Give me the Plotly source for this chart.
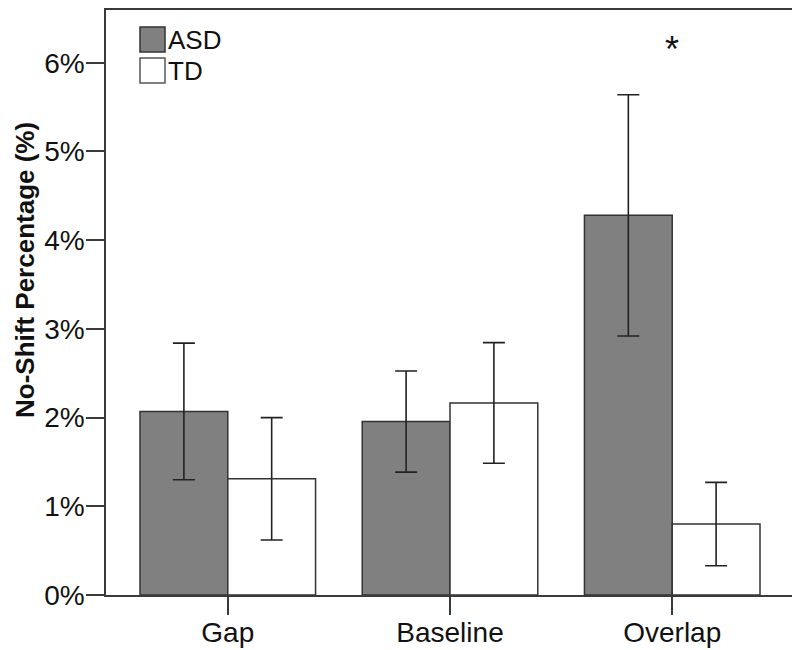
import plotly.graph_objects as go

categories = ["Gap", "Baseline", "Overlap"]
asd_values = [2.07, 1.955, 4.28]
asd_err = [0.77, 0.57, 1.36]
td_values = [1.31, 2.165, 0.80]
td_err = [0.69, 0.68, 0.47]
y_tickvals = [0, 1, 2, 3, 4, 5, 6]
y_ticktext = ["0%", "1%", "2%", "3%", "4%", "5%", "6%"]

FONT = "Liberation Sans, Arial, Helvetica, sans-serif"
LINE = "#3a3a3a"

fig = go.Figure()
fig.add_trace(go.Bar(
    name="ASD", x=categories, y=asd_values,
    marker=dict(color="#808080", line=dict(color="#333333", width=1.5)),
    error_y=dict(type="data", array=asd_err, visible=True, color="#222222", thickness=1.6, width=11),
    showlegend=False,
))
fig.add_trace(go.Bar(
    name="TD", x=categories, y=td_values,
    marker=dict(color="#ffffff", line=dict(color="#333333", width=1.5)),
    error_y=dict(type="data", array=td_err, visible=True, color="#222222", thickness=1.6, width=11),
    showlegend=False,
))

OFF = 8  # page body margin offset
W, H = 792, 642
L, R, T, B = 98, 6, 2, 55
pw, ph = W - L - R, H - T - B

def px(x):
    return (x - OFF - L) / pw

def py(y):
    return (H - B - (y - OFF)) / ph

shapes = [
    dict(type="rect", xref="paper", yref="paper", x0=px(140), x1=px(165), y0=py(52), y1=py(27),
         fillcolor="#808080", line=dict(color="#333333", width=1.5)),
    dict(type="rect", xref="paper", yref="paper", x0=px(140), x1=px(165), y0=py(83), y1=py(58),
         fillcolor="#ffffff", line=dict(color="#555555", width=1.5)),
]
annotations = [
    dict(text="ASD", xref="paper", yref="paper", x=px(166), y=py(40), xanchor="left", yanchor="middle",
         showarrow=False, font=dict(family=FONT, size=26, color="#111111")),
    dict(text="TD", xref="paper", yref="paper", x=px(166), y=py(71), xanchor="left", yanchor="middle",
         showarrow=False, font=dict(family=FONT, size=26, color="#111111")),
    dict(text="*", xref="x", yref="paper", x="Overlap", y=py(50), xanchor="center", yanchor="middle",
         showarrow=False, font=dict(family=FONT, size=36, color="#111111")),
    dict(text="<b>No-Shift Percentage (%)</b>", xref="paper", yref="paper", x=px(9), y=py(270),
         xanchor="left", yanchor="middle", textangle=-90, showarrow=False, borderpad=0,
         font=dict(family=FONT, size=26, color="#111111")),
]

fig.update_layout(
    width=W, height=H,
    margin=dict(l=L, r=R, t=T, b=B, pad=0),
    paper_bgcolor="white", plot_bgcolor="white",
    barmode="group", bargap=0.21, bargroupgap=0,
    font=dict(family=FONT, size=28, color="#111111"),
    shapes=shapes, annotations=annotations,
    xaxis=dict(
        range=[-0.548, 2.548], showgrid=False, zeroline=False, automargin=False,
        showline=True, mirror=True, linecolor=LINE, linewidth=1.5,
        ticks="outside", ticklen=18, tickwidth=1.5, tickcolor=LINE,
        ticklabelstandoff=-6,
        tickfont=dict(family=FONT, size=28, color="#111111"),
    ),
    yaxis=dict(
        range=[0, 6.595], showgrid=False, zeroline=False, automargin=False,
        showline=True, mirror=True, linecolor=LINE, linewidth=1.5,
        ticks="outside", ticklen=18, tickwidth=1.5, tickcolor=LINE,
        ticklabelstandoff=-4,
        tickvals=y_tickvals, ticktext=y_ticktext,
        tickfont=dict(family=FONT, size=28, color="#111111"),
    ),
)

fig.write_html("out.html")
